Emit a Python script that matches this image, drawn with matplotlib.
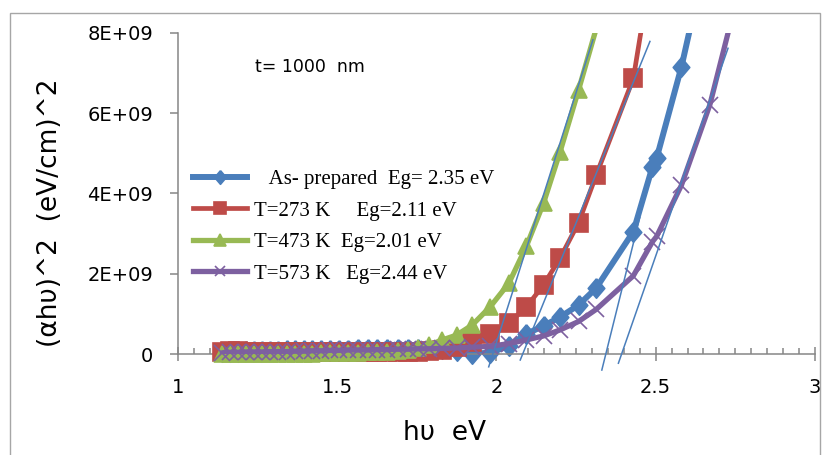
import numpy as np
import matplotlib.pyplot as plt
from matplotlib.lines import Line2D
from matplotlib.patches import Rectangle
from matplotlib.ticker import FixedLocator, MultipleLocator, FuncFormatter
from matplotlib.font_manager import FontProperties

# photon energy (eV), shared by all samples
hv = [1.14, 1.165, 1.19, 1.215, 1.24, 1.265, 1.29, 1.316, 1.342, 1.368,
      1.395, 1.422, 1.45, 1.478, 1.507, 1.536, 1.566, 1.596, 1.627, 1.658,
      1.69, 1.722, 1.755, 1.788, 1.83, 1.875, 1.924, 1.981, 2.039, 2.094,
      2.148, 2.2, 2.258, 2.313, 2.43, 2.49, 2.503, 2.581, 2.67, 2.78]

# (alpha h nu)^2 in units of 1E+09 (eV/cm)^2
as_prep = [0.05, 0.06, 0.06, 0.07, 0.07, 0.08, 0.08, 0.08, 0.09, 0.09,
           0.1, 0.1, 0.1, 0.11, 0.11, 0.11, 0.12, 0.12, 0.12, 0.13,
           0.13, 0.13, 0.13, 0.12, 0.12, 0.08, 0.01, 0.03, 0.2, 0.5,
           0.7, 0.92, 1.22, 1.64, 3.05, 4.67, 4.88, 7.16, 10.3]
t273 = [0.06, 0.07, 0.07, 0.06, 0.06, 0.05, 0.05, 0.05, 0.04, 0.04,
        0.04, 0.04, 0.04, 0.04, 0.04, 0.04, 0.04, 0.04, 0.04, 0.05,
        0.05, 0.05, 0.06, 0.08, 0.11, 0.17, 0.31, 0.49, 0.77, 1.17,
        1.72, 2.39, 3.27, 4.45, 6.87, 9.8]
t473 = [0.01, 0.0, 0.01, 0.0, 0.01, 0.01, 0.0, 0.01, 0.01, 0.01,
        0.01, 0.01, 0.02, 0.02, 0.02, 0.03, 0.03, 0.04, 0.05, 0.06,
        0.08, 0.11, 0.15, 0.22, 0.35, 0.47, 0.72, 1.18, 1.76, 2.68,
        3.76, 5.04, 6.58, 8.1, 11.5]
t573 = [0.03, 0.04, 0.04, 0.05, 0.05, 0.05, 0.06, 0.06, 0.06, 0.07,
        0.07, 0.08, 0.08, 0.09, 0.09, 0.1, 0.1, 0.1, 0.11, 0.11,
        0.12, 0.12, 0.13, 0.13, 0.14, 0.15, 0.17, 0.19, 0.26, 0.35,
        0.45, 0.6, 0.81, 1.11, 1.95, 2.8, 2.93, 4.21, 6.21, 9.66]

labels = ['   As- prepared  Eg= 2.35 eV',
          'T=273 K     Eg=2.11 eV',
          'T=473 K  Eg=2.01 eV',
          'T=573 K   Eg=2.44 eV']
colors = ['#4a7ebb', '#be4b48', '#98b954', '#7d60a0']

# linear fits used for the band gap, end points (eV, 1E+09)
fit_x = [(2.331, 2.45), (2.075, 2.482), (1.976, 2.303), (2.383, 2.727)]
fit_y = [(-0.40, 3.4), (-0.15, 7.79), (-0.32, 7.83), (-0.23, 7.62)]

diamond = [(0, 1), (0.85, 0), (0, -1), (-0.85, 0), (0, 1)]
markers = [diamond, 's', '^', 'x']
msizes = [14, 12.5, 12, 11]
lwidths = [4.3, 3.4, 3.8, 3.8]

fig = plt.figure(figsize=(8.29, 4.55), dpi=100)
ax = fig.add_axes([177.7 / 829, 1 - 354 / 455, (815 - 177.7) / 829, (354 - 33) / 455])

ymax = 8e9
handles = []
for i, ys in enumerate([as_prep, t273, t473, t573]):
    x = np.array(hv[:len(ys)])
    y = np.array(ys) * 1e9
    ax.plot(x, y, color=colors[i], lw=lwidths[i], solid_joinstyle='round',
            solid_capstyle='round', zorder=2 + i)
    keep = y <= ymax
    ax.plot(x[keep], y[keep], ls='none', marker=markers[i], ms=msizes[i],
            color=colors[i], mec=colors[i], mew=1.2, clip_on=False, zorder=2 + i)
    handles.append(Line2D([], [], color=colors[i], lw=lwidths[i],
                          marker=markers[i], ms=msizes[i] * 0.7,
                          mec=colors[i], mew=1.2))

for (x0, x1), (y0, y1) in zip(fit_x, fit_y):
    ax.plot([x0, x1], [y0 * 1e9, y1 * 1e9], color='#4a7ebb', lw=1.1,
            clip_on=False, zorder=10)

ax.set_xlim(1, 3)
ax.set_ylim(0, ymax)

axis_grey = '#868686'
for side in ['top', 'right']:
    ax.spines[side].set_visible(False)
for side in ['left', 'bottom']:
    ax.spines[side].set_color(axis_grey)
    ax.spines[side].set_linewidth(1.1)

ax.xaxis.set_major_locator(MultipleLocator(0.5))
ax.xaxis.set_minor_locator(MultipleLocator(0.05))
ax.xaxis.set_major_formatter(FuncFormatter(lambda v, p: '%g' % v))
ax.yaxis.set_major_locator(FixedLocator([0, 2e9, 4e9, 6e9, 8e9]))
ax.yaxis.set_major_formatter(FuncFormatter(lambda v, p: '0' if v == 0 else '%.0E' % v))

ax.tick_params(axis='x', which='major', direction='inout', length=10.5, width=1.1,
               color=axis_grey, pad=12, labelsize=14)
ax.tick_params(axis='x', which='minor', direction='in', length=4.3, width=1.1,
               color=axis_grey)
ax.tick_params(axis='y', which='major', direction='out', length=5.8, width=1.1,
               color=axis_grey, pad=12, labelsize=14)

ax.set_xlabel('hυ  eV', fontsize=19)
ax.xaxis.set_label_coords(0.419, -0.205)
ax.set_ylabel('(αhυ)^2  (eV/cm)^2', fontsize=19)
ax.yaxis.set_label_coords(-0.18, 0.439)

ax.text(0.121, 0.893, 't= 1000  nm', transform=ax.transAxes, fontsize=12.5,
        ha='left', va='center')

ax.legend(handles, labels, loc='upper left', bbox_to_anchor=(0.024, 0.574),
          frameon=False, prop=FontProperties(family='Liberation Serif', size=15),
          handlelength=2.6, handletextpad=0.35, labelspacing=0.57,
          borderpad=0, borderaxespad=0)

fig.add_artist(Rectangle((10 / 829, -0.1), 810 / 829, 1.1 - 13 / 455,
                         transform=fig.transFigure, fill=False,
                         edgecolor='#a6a6a6', lw=1, clip_on=False))

fig.savefig('out.png', dpi=100)
